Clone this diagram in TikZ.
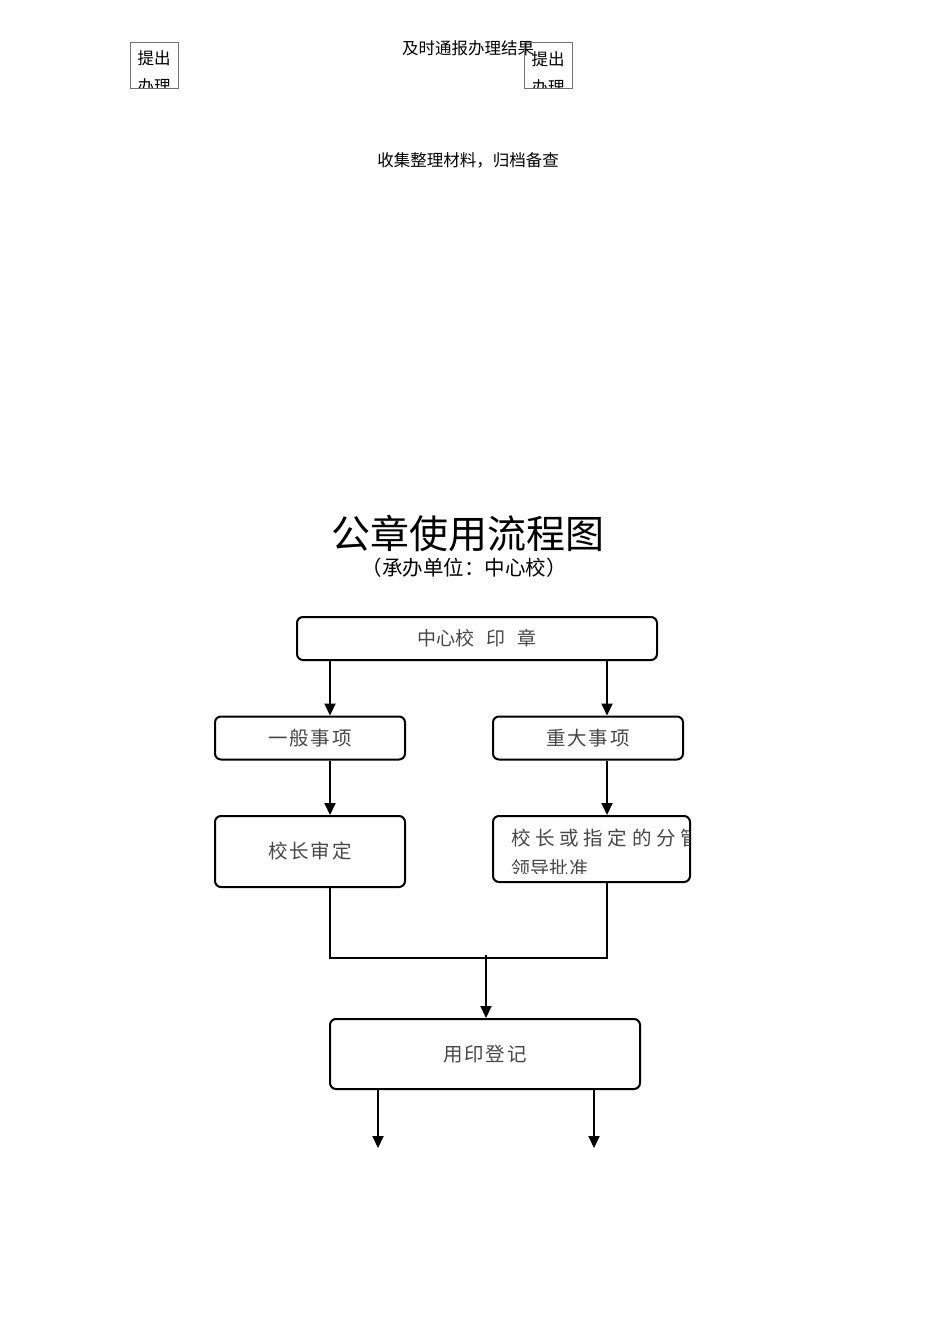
\documentclass[tikz,border=0pt]{standalone}
\usepackage{fontspec}
\setmainfont{Noto Sans CJK SC}
\usetikzlibrary{arrows.meta}
\tikzset{
  flow/.style={draw, line width=2pt, rounded corners=6pt, inner sep=0pt, text=black!72, font=\fontsize{19.5}{21}\selectfont\addfontfeature{LetterSpace=9}},
  thinbox/.style={draw=black!55, line width=0.9pt},
  arr/.style={line width=2pt, -{Triangle[width=11pt,length=12pt]}},
  ln/.style={line width=2pt},
  small/.style={inner sep=0pt, font=\fontsize{16.5}{18}\selectfont},
}
\begin{document}
\begin{tikzpicture}[x=1pt,y=-1pt]
\useasboundingbox (0,0) rectangle (950,1344);
% top fragments
\node[small] (report) at (468,48) {及时通报办理结果};
\node[thinbox, minimum width=48pt, minimum height=46pt, inner sep=0pt] (b1) at (154,65) {};
\node[thinbox, minimum width=48pt, minimum height=46pt, inner sep=0pt] (b2) at (548,65) {};
\begin{scope}
\clip (130,42) rectangle (178,87);
\node[small] (b1a) at (154,58) {提出};
\node[small] (b1b) at (154,86) {办理};
\end{scope}
\begin{scope}
\clip (524,42) rectangle (572,87);
\node[small] (b2a) at (548,59) {提出};
\node[small] (b2b) at (548,87) {办理};
\end{scope}
\node[small] (collect) at (468,160) {收集整理材料，归档备查};
% title
\node[inner sep=0pt, font=\fontsize{39}{42}\selectfont] (title) at (468,533) {公章使用流程图};
\node[inner sep=0pt, font=\fontsize{20.5}{22}\selectfont] (sub) at (464,568) {（承办单位：中心校）};
% flow boxes
\node[flow, minimum width=360pt, minimum height=43pt, font=\fontsize{19}{20}\selectfont\addfontfeature{LetterSpace=1}] (seal) at (477,638.5) {中心校\hspace{12pt}印\hspace{12pt}章};
\node[flow, minimum width=190pt, minimum height=43pt] (gen) at (310,738) {一般事项};
\node[flow, minimum width=190pt, minimum height=43pt] (maj) at (588,738) {重大事项};
\node[flow, minimum width=190pt, minimum height=71pt] (head) at (310,851.5) {校长审定};
\node[flow, minimum width=197pt, minimum height=66pt] (lead) at (591.5,849) {};
\begin{scope}
\clip (495,818) rectangle (689,873);
\node[anchor=west, inner sep=0pt, text=black!72, font=\fontsize{19.5}{21}\selectfont\addfontfeature{LetterSpace=24}] (l1) at (511,838) {校长或指定的分管};
\node[anchor=west, inner sep=0pt, text=black!72, font=\fontsize{19}{21}\selectfont\addfontfeature{LetterSpace=2}] (l2) at (511,868) {领导批准};
\end{scope}
\node[flow, minimum width=310pt, minimum height=70pt] (reg) at (485,1054) {用印登记};
% connectors
\coordinate (xl) at (330,0);
\coordinate (xr) at (607,0);
\coordinate (xm) at (486,0);
\coordinate (join) at (486,958);
\draw[arr] (seal.south -| xl) -- (gen.north -| xl);
\draw[arr] (seal.south -| xr) -- (maj.north -| xr);
\draw[arr] (gen.south -| xl) -- (head.north -| xl);
\draw[arr] (maj.south -| xr) -- (lead.north -| xr);
\draw[ln] (head.south -| xl) -- (join -| xl) -- (join -| xr) -- (lead.south -| xr);
\draw[arr] ([yshift=3pt]join) -- (reg.north -| xm);
\coordinate (o1) at (378,1148);
\coordinate (o2) at (594,1148);
\draw[arr] (reg.south -| o1) -- (o1);
\draw[arr] (reg.south -| o2) -- (o2);
\end{tikzpicture}
\end{document}
